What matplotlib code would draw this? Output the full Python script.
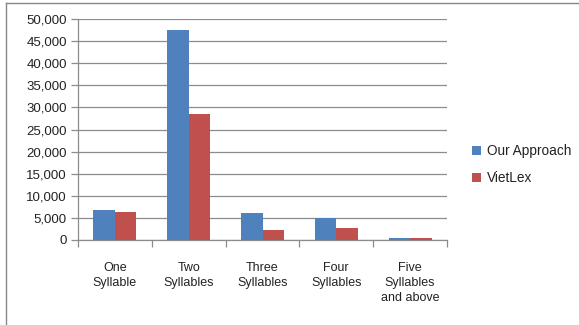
import numpy as np
import matplotlib.pyplot as plt
from matplotlib.lines import Line2D
from matplotlib.ticker import FuncFormatter

categories = ['One\nSyllable', 'Two\nSyllables', 'Three\nSyllables', 'Four\nSyllables', 'Five\nSyllables\nand above']
our_approach = [6800, 47400, 6000, 4900, 500]
vietlex = [6300, 28400, 2300, 2800, 450]

plt.rcParams['font.family'] = ['Liberation Sans', 'DejaVu Sans']

fig = plt.figure(figsize=(5.79, 3.25), dpi=100)
ax = fig.add_axes([78 / 579, 1 - 240 / 325, (447 - 78) / 579, (240 - 19) / 325])

x = np.arange(len(categories))
w = 0.29
ax.bar(x - w / 2, our_approach, w, color='#4f81bd', label='Our Approach', zorder=3)
ax.bar(x + w / 2, vietlex, w, color='#c0504d', label='VietLex', zorder=3)

ax.set_xlim(-0.5, len(categories) - 0.5)
ax.set_ylim(0, 50000)
ax.set_yticks(np.arange(0, 50001, 5000))
ax.yaxis.set_major_formatter(FuncFormatter(lambda v, p: f'{int(v):,}'))
ax.yaxis.grid(True, color='#8c8c8c', linewidth=0.9, zorder=0)

# category labels centered, ticks at boundaries
ax.set_xticks(x)
ax.set_xticklabels(categories, fontsize=9, color='#222222', linespacing=1.3)
ax.tick_params(axis='x', length=0, pad=16)
ax.set_xticks(np.arange(-0.5, len(categories), 1), minor=True)
ax.tick_params(axis='x', which='minor', length=5, color='#8c8c8c', width=0.9)
ax.tick_params(axis='y', length=5, color='#8c8c8c', width=0.9, labelsize=9.5, labelcolor='#222222', pad=3)

for s in ['top', 'right']:
    ax.spines[s].set_visible(False)
ax.spines['left'].set_color('#8c8c8c')
ax.spines['bottom'].set_color('#8c8c8c')
ax.spines['left'].set_linewidth(0.9)
ax.spines['bottom'].set_linewidth(0.9)

leg = fig.legend(loc='upper left', bbox_to_anchor=(460 / 579, 1 - 132 / 325), frameon=False,
                 fontsize=9.8, handlelength=0.65, handleheight=0.65, handletextpad=0.45,
                 labelspacing=0.95)
for t in leg.get_texts():
    t.set_color('#222222')

# outer chart frame (cropped)
fig.add_artist(Line2D([6 / 579, 6 / 579], [0, 1 - 3 / 325], transform=fig.transFigure, color='#888888', linewidth=1.0))
fig.add_artist(Line2D([6 / 579, 1], [1 - 3 / 325, 1 - 3 / 325], transform=fig.transFigure, color='#888888', linewidth=1.0))

fig.savefig('out.png', dpi=100)
